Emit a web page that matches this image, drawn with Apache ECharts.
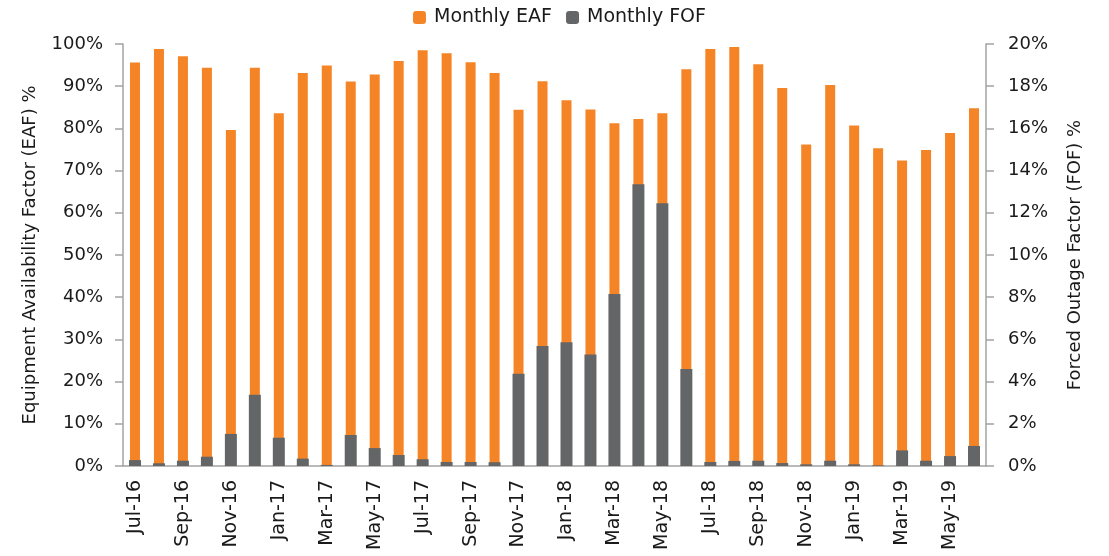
<!DOCTYPE html>
<html>
<head>
<meta charset="utf-8">
<script src="https://cdn.jsdelivr.net/npm/echarts@6/dist/echarts.min.js"></script>
<style>html,body{margin:0;padding:0;background:#fff}#c{width:1109px;height:556px}</style>
</head>
<body>
<div id="c"></div>
<script>
const categories = ["Jul-16","Aug-16","Sep-16","Oct-16","Nov-16","Dec-16","Jan-17","Feb-17","Mar-17","Apr-17","May-17","Jun-17","Jul-17","Aug-17","Sep-17","Oct-17","Nov-17","Dec-17","Jan-18","Feb-18","Mar-18","Apr-18","May-18","Jun-18","Jul-18","Aug-18","Sep-18","Oct-18","Nov-18","Dec-18","Jan-19","Feb-19","Mar-19","Apr-19","May-19","Jun-19"];
const eaf = [95.6,98.8,97.1,94.4,79.6,94.4,83.6,93.1,94.9,91.1,92.8,96.0,98.5,97.8,95.7,93.1,84.4,91.2,86.7,84.5,81.2,82.2,83.6,94.0,98.8,99.3,95.2,89.6,76.2,90.3,80.7,75.3,72.4,74.9,78.9,84.8];
const fof = [0.28,0.13,0.25,0.44,1.52,3.38,1.34,0.35,0.05,1.47,0.85,0.52,0.32,0.19,0.19,0.18,4.37,5.69,5.86,5.29,8.15,13.35,12.45,4.6,0.19,0.24,0.25,0.14,0.08,0.25,0.08,0.03,0.74,0.25,0.47,0.95];
const leftTicks = {min:0, max:100, interval:10};
const rightTicks = {min:0, max:20, interval:2};

const FONT = 'DejaVu Sans';
const TXT = '#1a1a1a';
const axisCol = '#A3A3A3';
const chart = echarts.init(document.getElementById('c'));
chart.setOption({
  animation:false,
  textStyle:{fontFamily:FONT},
  legend:{
    top:3, left:408, itemWidth:13, itemHeight:13, itemGap:14,
    textStyle:{fontFamily:FONT, fontSize:19, color:TXT, padding:[0,0,0,3]},
    data:['Monthly EAF','Monthly FOF']
  },
  grid:{left:123, right:123, top:44, bottom:90},
  xAxis:[{
    type:'category', data:categories,
    axisLine:{lineStyle:{color:axisCol, width:1.5}},
    axisTick:{interval:1, length:8, lineStyle:{color:axisCol, width:1.5}},
    axisLabel:{interval:1, rotate:90, margin:14, fontFamily:FONT, fontSize:19, color:TXT}
  },{
    type:'category', data:categories, show:false
  }],
  yAxis:[{
    type:'value', min:leftTicks.min, max:leftTicks.max, interval:leftTicks.interval,
    name:'Equipment Availability Factor (EAF) %', nameLocation:'middle', nameRotate:90, nameGap:84,
    nameTextStyle:{fontFamily:FONT, fontSize:18, color:TXT},
    axisLine:{show:true, lineStyle:{color:axisCol, width:1.5}},
    axisTick:{show:true, length:8, lineStyle:{color:axisCol, width:1.5}},
    splitLine:{show:false},
    axisLabel:{formatter:'{value}%', fontFamily:FONT, fontSize:18, color:TXT, margin:20}
  },{
    type:'value', min:rightTicks.min, max:rightTicks.max, interval:rightTicks.interval,
    name:'Forced Outage Factor (FOF) %', nameLocation:'middle', nameRotate:90, nameGap:80,
    nameTextStyle:{fontFamily:FONT, fontSize:18, color:TXT},
    axisLine:{show:true, lineStyle:{color:axisCol, width:1.5}},
    axisTick:{show:true, length:8, lineStyle:{color:axisCol, width:1.5}},
    splitLine:{show:false},
    axisLabel:{formatter:'{value}%', fontFamily:FONT, fontSize:18, color:TXT, margin:22}
  }],
  series:[{
    name:'Monthly EAF', type:'bar', xAxisIndex:0, yAxisIndex:0, data:eaf,
    barWidth:10, itemStyle:{color:'#F58426'}
  },{
    name:'Monthly FOF', type:'bar', xAxisIndex:1, yAxisIndex:1, data:fof,
    barWidth:12, itemStyle:{color:'#646567'}
  }]
});
</script>
</body>
</html>
